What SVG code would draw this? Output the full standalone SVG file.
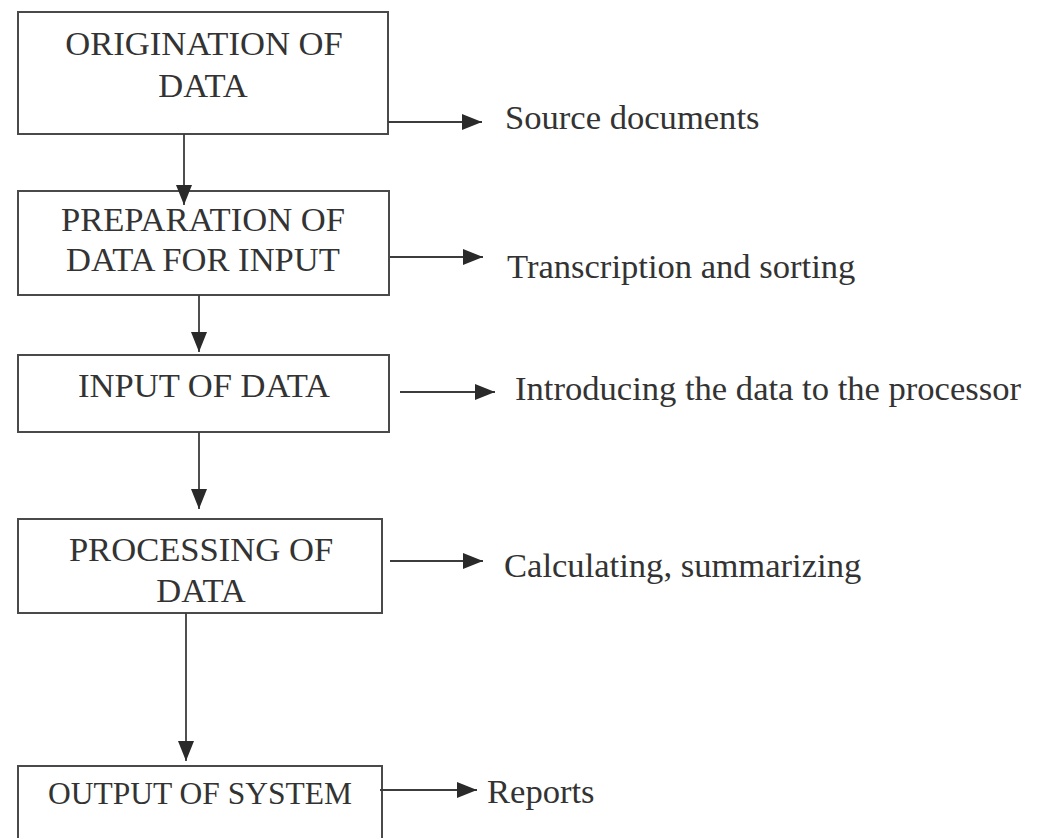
<svg xmlns="http://www.w3.org/2000/svg" width="1037" height="838" viewBox="0 0 1037 838">
  <style>
    .box { fill: #ffffff; stroke: #4a4a4a; stroke-width: 2; }
    .lbl { font-family: "Liberation Serif", "Times New Roman", serif; font-size: 34.6px; fill: #333333; }
    .mid { text-anchor: middle; }
    .wire { fill: none; stroke: #3c3c3c; stroke-width: 1.8; marker-end: url(#head); }
  </style>
  <defs>
    <marker id="head" markerUnits="userSpaceOnUse" markerWidth="20" markerHeight="16" refX="20" refY="8" orient="auto">
      <path d="M0,0 L20,8 L0,16 Z" fill="#2a2a2a"/>
    </marker>
  </defs>
  <rect width="1037" height="838" fill="#ffffff"/>

  <g id="origination">
    <rect class="box" x="18" y="12" width="370" height="122"/>
    <text class="lbl mid" x="204" y="55">ORIGINATION OF</text>
    <text class="lbl mid" x="203" y="97">DATA</text>
  </g>

  <g id="preparation">
    <rect class="box" x="18" y="191" width="371" height="104"/>
    <text class="lbl mid" x="203" y="231">PREPARATION OF</text>
    <text class="lbl mid" x="203" y="271">DATA FOR INPUT</text>
  </g>

  <g id="input">
    <rect class="box" x="18" y="355" width="371" height="77"/>
    <text class="lbl mid" x="204" y="397">INPUT OF DATA</text>
  </g>

  <g id="processing">
    <rect class="box" x="18" y="519" width="364" height="94"/>
    <text class="lbl mid" x="201" y="561">PROCESSING OF</text>
    <text class="lbl mid" x="201" y="602">DATA</text>
  </g>

  <g id="output">
    <rect class="box" x="18" y="766" width="364" height="90"/>
    <text class="lbl mid" x="200" y="804" style="font-size:31.5px">OUTPUT OF SYSTEM</text>
  </g>

  <g id="side-notes">
    <text class="lbl" x="505" y="129">Source documents</text>
    <text class="lbl" x="507" y="278">Transcription and sorting</text>
    <text class="lbl" x="515" y="400">Introducing the data to the processor</text>
    <text class="lbl" x="504" y="577">Calculating, summarizing</text>
    <text class="lbl" x="487" y="803">Reports</text>
  </g>

  <g id="connectors">
    <!-- main flow -->
    <line class="wire" x1="184" y1="134" x2="184" y2="205"/>
    <line class="wire" x1="199" y1="295" x2="199" y2="352"/>
    <line class="wire" x1="199" y1="432" x2="199" y2="509"/>
    <line class="wire" x1="186" y1="613" x2="186" y2="761"/>
    <!-- side outputs -->
    <line class="wire" x1="388" y1="122" x2="482" y2="122"/>
    <line class="wire" x1="390" y1="257" x2="483" y2="257"/>
    <line class="wire" x1="400" y1="392" x2="495" y2="392"/>
    <line class="wire" x1="390" y1="561" x2="483" y2="561"/>
    <line class="wire" x1="380" y1="790" x2="477" y2="790"/>
  </g>
</svg>
